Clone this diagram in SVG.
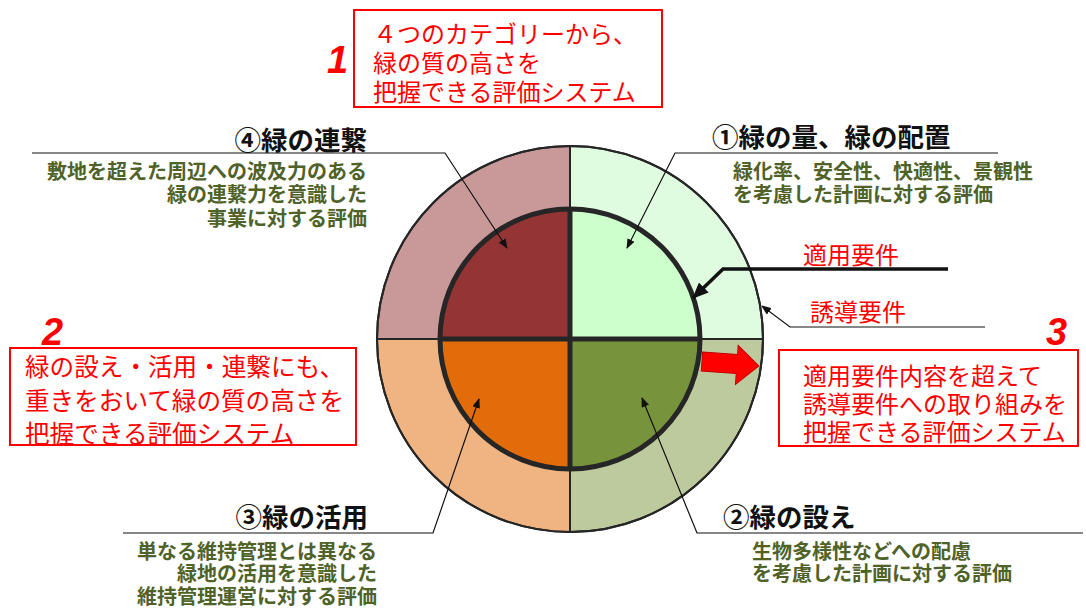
<svg xmlns="http://www.w3.org/2000/svg" width="1086" height="608" viewBox="0 0 1086 608">
<defs>
<style>
text{font-family:"Noto Sans CJK JP","Noto Sans",sans-serif;dominant-baseline:central}
.h{font-size:26.5px;font-weight:bold;fill:#111}
.g{font-size:20px;font-weight:bold;fill:#4F6228}
.r{font-size:24px;fill:#FF0000}
.r2{font-size:24.6px;fill:#FF0000}
.num{font-family:"Liberation Sans",Arial,sans-serif;font-size:38px;font-weight:bold;font-style:italic;fill:#FF0000;dominant-baseline:auto}
.box{fill:#fff;stroke:#FF0000;stroke-width:2}
.lead{fill:none;stroke:#111;stroke-width:1.2}
.sec{stroke:#262626;stroke-width:2}
</style>
<marker id="ah" markerWidth="10" markerHeight="8" refX="9" refY="4" orient="auto" markerUnits="userSpaceOnUse">
<path d="M0,0 L10,4 L0,8 Z" fill="#111"/>
</marker>
<marker id="ahb" markerWidth="16" markerHeight="14" refX="15" refY="7" orient="auto" markerUnits="userSpaceOnUse">
<path d="M0,0 L16,7 L0,14 Z" fill="#111"/>
</marker>
</defs>

<g id="wheel">
<path class="sec" d="M570,339 L377,339 A193,193 0 0 1 570,146 Z" fill="#C99999"/>
<path class="sec" d="M570,339 L570,146 A193,193 0 0 1 763,339 Z" fill="#E0FCE0"/>
<path class="sec" d="M570,339 L763,339 A193,193 0 0 1 570,532 Z" fill="#BDCA9E"/>
<path class="sec" d="M570,339 L570,532 A193,193 0 0 1 377,339 Z" fill="#F0B482"/>
<path d="M570,339 L440,339 A130,130 0 0 1 570,209 Z" fill="#943434"/>
<path d="M570,339 L570,209 A130,130 0 0 1 700,339 Z" fill="#CCFFCC"/>
<path d="M570,339 L700,339 A130,130 0 0 1 570,469 Z" fill="#77933C"/>
<path d="M570,339 L570,469 A130,130 0 0 1 440,339 Z" fill="#E36C0A"/>
<circle cx="570" cy="339" r="130" fill="none" stroke="#262626" stroke-width="5"/>
<path d="M440,339 H700 M570,209 V469" stroke="#262626" stroke-width="5"/>
<circle cx="570" cy="339" r="193" fill="none" stroke="#262626" stroke-width="2"/>
</g>

<g id="red-arrow">
<polygon transform="rotate(4 702 361)" points="702,352 737,352 737,343 759,362 737,382 737,371 702,371" fill="#FF0000" stroke="#C00000" stroke-width="1"/>
</g>

<g id="connectors">
<polyline class="lead" points="32,153 445,153 507,248" marker-end="url(#ah)"/>
<polyline class="lead" points="998,153 675,153 627,248" marker-end="url(#ah)"/>
<polyline class="lead" points="123,533 433,533 479,399" marker-end="url(#ah)"/>
<polyline class="lead" points="1083,533 697,533 642,398" marker-end="url(#ah)"/>
<polyline fill="none" stroke="#111" stroke-width="3.5" points="948,269 723,269 693,298" marker-end="url(#ahb)"/>
<polyline class="lead" points="985,327 790,327 762,306" marker-end="url(#ah)"/>
</g>

<g id="node-4">
<text class="h" x="367" y="138" text-anchor="end">④緑の連繋</text>
<text class="g" x="367" y="170" text-anchor="end">敷地を超えた周辺への波及力のある</text>
<text class="g" x="367" y="193" text-anchor="end">緑の連繋力を意識した</text>
<text class="g" x="367" y="217" text-anchor="end">事業に対する評価</text>
</g>

<g id="node-1">
<text class="h" x="712" y="135">①緑の量、緑の配置</text>
<text class="g" x="733" y="170">緑化率、安全性、快適性、景観性</text>
<text class="g" x="733" y="193">を考慮した計画に対する評価</text>
</g>

<g id="node-3">
<text class="h" x="368" y="515" text-anchor="end">③緑の活用</text>
<text class="g" x="377" y="550" text-anchor="end">単なる維持管理とは異なる</text>
<text class="g" x="377" y="572" text-anchor="end">緑地の活用を意識した</text>
<text class="g" x="377" y="595" text-anchor="end">維持管理運営に対する評価</text>
</g>

<g id="node-2">
<text class="h" x="723" y="515">②緑の設え</text>
<text class="g" x="752" y="550">生物多様性などへの配慮</text>
<text class="g" x="752" y="572">を考慮した計画に対する評価</text>
</g>

<g id="label-tekiyo">
<text class="r" x="803" y="253">適用要件</text>
</g>
<g id="label-yudo">
<text class="r" x="810" y="310">誘導要件</text>
</g>

<g id="box-1">
<text class="num" x="327" y="73">1</text>
<rect class="box" x="354" y="10" width="308" height="97"/>
<text class="r" x="373" y="32">４つのカテゴリーから、</text>
<text class="r" x="373" y="61">緑の質の高さを</text>
<text class="r" x="373" y="90">把握できる評価システム</text>
</g>

<g id="box-2">
<text class="num" x="42" y="345">2</text>
<rect class="box" x="10" y="348" width="346" height="97"/>
<text class="r2" x="25" y="365">緑の設え・活用・連繋にも、</text>
<text class="r2" x="25" y="399">重きをおいて緑の質の高さを</text>
<text class="r2" x="25" y="432">把握できる評価システム</text>
</g>

<g id="box-3">
<text class="num" x="1046" y="345">3</text>
<rect class="box" x="779" y="350" width="299" height="96"/>
<text class="r" x="803" y="374">適用要件内容を超えて</text>
<text class="r" x="803" y="402">誘導要件への取り組みを</text>
<text class="r" x="803" y="430">把握できる評価システム</text>
</g>
</svg>
